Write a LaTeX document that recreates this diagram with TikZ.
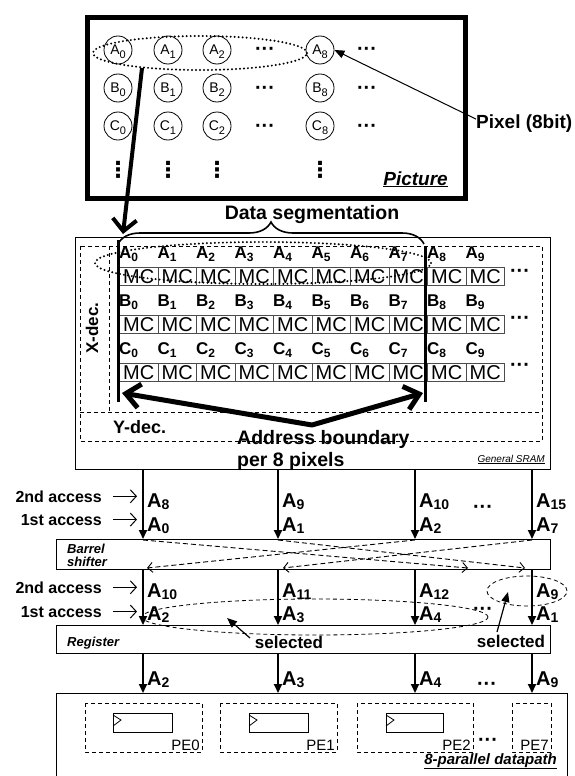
\documentclass[tikz,border=0pt]{standalone}
\usepackage{fontspec}
\setmainfont{Liberation Sans}
\newfontfamily\dejavu{DejaVu Sans}
\usetikzlibrary{arrows.meta,decorations.pathreplacing}
\newcommand\fs[1]{\fontsize{#1}{#1}\selectfont}
\newcommand\lsub[3]{\raisebox{-#2pt}{\fs{#1}#3}}
\begin{document}
\begin{tikzpicture}[x=1pt,y=-1pt,
  pix/.style={circle,draw,line width=0.8pt,minimum size=28pt,inner sep=0pt,text depth=0pt,font=\fs{14}},
  dots/.style={inner sep=0pt,anchor=base,font=\bfseries\fs{20}},
  vdots/.style={inner sep=0pt,font=\dejavu\bfseries\fs{22}},
  lab/.style={anchor=base west,inner sep=0pt,font=\bfseries\fs{17}},
  big/.style={anchor=base west,inner sep=0pt,font=\bfseries\fs{20}},
  acc/.style={anchor=base east,inner sep=0pt,font=\bfseries\fs{16}},
  mc/.style={draw=black!70,line width=1pt,minimum width=38.5pt,minimum height=18pt,inner sep=0pt,anchor=north west,font=\fs{20}},
  box/.style={draw,line width=1pt,anchor=north west,inner sep=0pt},
  dbox/.style={draw,dashed,dash pattern=on 4pt off 3pt,line width=0.8pt},
  colarrow/.style={line width=2pt,-{Triangle[length=9pt,width=8pt]}},
  accarrow/.style={line width=1pt,-{Straight Barb[length=6pt,width=13pt]}},
  dasharrow/.style={line width=0.9pt,dash pattern=on 5pt off 3pt,-{Straight Barb[length=5pt,width=10pt]}},
  dotline/.style={line width=2.2pt,dash pattern=on 0pt off 4pt,line cap=round},
  selarrow/.style={line width=1.2pt,-{Triangle[length=10pt,width=8pt]}},
  tag/.style={inner sep=0pt,font=\bfseries\itshape\fs{13},anchor=base west}
]
\useasboundingbox (0,0) rectangle (575,776);

% ---------------- Picture ----------------
\node[draw,line width=5pt,minimum width=378pt,minimum height=181pt,anchor=north west,inner sep=0pt] (pic) at (85,15) {};
\foreach \L/\y in {A/50,B/88,C/126} {
  \foreach \n/\x in {0/118,1/168,2/217,8/320} {
    \node[pix] (p\L\n) at (\x,\y) {\L\lsub{11}{4}{\n}};
  }
  \node[dots] (pd\L a) at (265,\y+6) {···};
  \node[dots] (pd\L b) at (367,\y+6) {···};
}
\foreach \x [count=\k] in {118,168,217,320} {
  \node[vdots] (vd\k) at (\x,170) {⋮};
}
\node[anchor=base east,inner sep=0pt,font=\bfseries\itshape\fs{19}] (pictxt) at (448,185) {\underline{Picture}};
\draw[dotline] (200,53) ellipse [x radius=107pt, y radius=17pt];
\coordinate (ellA) at (142,68);

\node[anchor=base west,inner sep=0pt,font=\bfseries\fs{19}] (pixel) at (476,128) {Pixel (8bit)};
\draw[line width=1pt,-{Triangle[length=10pt,width=8pt]}] (pixel.west) ++(0,-4) -- (pA8.east);

% ---------------- SRAM ----------------
\node[box,minimum width=475pt,minimum height=232pt] (sram) at (75,237) {};
\node[anchor=base east,inner sep=0pt,font=\itshape\fs{10}] at (545,462) {\underline{General SRAM}};
\draw[dbox] (80,246) rectangle (542,441);
\draw[dbox] (109,246) -- (109,412);
\draw[dbox] (80,412) -- (542,412);
\node[rotate=90,inner sep=0pt,font=\bfseries\fs{17}] (xdec) at (92,328) {X-dec.};
\node[anchor=base west,inner sep=0pt,font=\bfseries\fs{18}] (ydec) at (113,433) {Y-dec.};

\foreach \L/\r in {A/0,B/1,C/2} {
  \foreach \i in {0,...,9} {
    \pgfmathsetmacro\xx{119+38.5*\i}
    \pgfmathsetmacro\yb{258+48*\r}
    \pgfmathsetmacro\yt{267+48*\r}
    \node[mc] (mc\L\i) at (\xx,\yt) {MC};
    \node[lab] (lb\L\i) at (\xx,\yb) {\L\lsub{12}{3}{\i}};
  }
  \pgfmathsetmacro\yd{277+47*\r}
  \node[dots] (sd\L) at (520,\yd) {···};
}
\draw[line width=3pt] (118,240) -- (118,402);
\draw[line width=3pt] (425,246) -- (425,402);
\draw[line width=1.6pt,decorate,decoration={brace,amplitude=22pt}] (118,244) -- (424,244);
\node[anchor=base,inner sep=0pt,font=\bfseries\fs{19.5}] (dseg) at (312,219) {Data segmentation};
\draw[dotline] (263,263) ellipse [x radius=168pt, y radius=21pt];

\draw[line width=4pt,-{Straight Barb[length=12pt,width=24pt]}] (ellA) -- (123,234);

\coordinate (vtx) at (312,425);
\draw[line width=5pt,line join=round,{Straight Barb[length=14pt,width=24pt]}-{Straight Barb[length=14pt,width=24pt]}] (122,393) -- (vtx) -- (423,393);
\node[anchor=base west,inner sep=0pt,font=\bfseries\fs{19.5}] (addr) at (237,444) {Address boundary};
\node[anchor=base west,inner sep=0pt,font=\bfseries\fs{19.5}] (per8) at (237,466) {per 8 pixels};

% ---------------- lower boxes ----------------
\node[box,minimum width=494pt,minimum height=30pt] (barrel) at (56,539) {};
\node[tag] (bar1) at (67,553) {Barrel};
\node[tag] (bar2) at (67,566) {shifter};
\node[box,minimum width=494pt,minimum height=28pt] (reg) at (56,625) {};
\node[tag] (regtxt) at (67,646) {Register};
\node[box,minimum width=511pt,minimum height=95pt] (dp) at (56,693) {};
\node[anchor=base east,inner sep=0pt,font=\bfseries\itshape\fs{15}] at (557,764) {\underline{8-parallel datapath}};

\foreach \k/\x in {0/143,1/278,2/415,3/532} {
  \coordinate (c\k) at (\x,0);
  \draw[colarrow] (sram.south -| c\k) -- (barrel.north -| c\k);
  \draw[colarrow] (barrel.south -| c\k) -- (reg.north -| c\k);
  \draw[colarrow] (reg.south -| c\k) -- (dp.north -| c\k);
}

% group 1
\node[acc] (acc2a) at (102,502) {2nd access};
\node[acc] (acc1a) at (102,525) {1st access};
\draw[accarrow] (acc2a.east) ++(11,0) -- ++(24,0);
\draw[accarrow] (acc1a.east) ++(11,0) -- ++(24,0);
\foreach \x/\a/\b in {147/8/0,282/9/1,419/10/2,536/15/7} {
  \node[big] at (\x,507) {A\lsub{14}{2.5}{\a}};
  \node[big] at (\x,531) {A\lsub{14}{2.5}{\b}};
}
\node[dots] at (483,513) {···};

% barrel crossings
\draw[dasharrow] (143,540) -- (468,568);
\draw[dasharrow] (278,540) -- (525,568);
\draw[dasharrow] (415,540) -- (147,568);
\draw[dasharrow] (532,540) -- (283,568);

% group 2
\node[acc] (acc2b) at (102,593) {2nd access};
\node[acc] (acc1b) at (102,617) {1st access};
\draw[accarrow] (acc2b.east) ++(11,0) -- ++(24,0);
\draw[accarrow] (acc1b.east) ++(11,0) -- ++(24,0);
\foreach \x/\a/\b in {147/10/2,282/11/3,419/12/4,536/9/1} {
  \node[big] at (\x,597) {A\lsub{14}{2.5}{\a}};
  \node[big] at (\x,620) {A\lsub{14}{2.5}{\b}};
}
\node[dots] at (483,615) {···};
\draw[dbox] (527,591) ellipse [x radius=40pt, y radius=15pt];
\draw[dbox] (315,617) ellipse [x radius=173pt, y radius=18pt];
\node[anchor=base,inner sep=0pt,font=\bfseries\fs{17}] (sel1) at (289,648) {selected};
\node[anchor=base,inner sep=0pt,font=\bfseries\fs{17}] (sel2) at (511,647) {selected};
\draw[selarrow] (250,638) -- (227,618);
\draw[selarrow] (497,632) -- (508,592);

% group 3
\foreach \x/\a in {147/2,282/3,419/4,536/9} {
  \node[big] at (\x,685) {A\lsub{14}{2.5}{\a}};
}
\node[dots] at (487,690) {···};

% PEs
\foreach \n/\xa/\xb in {0/85/202,1/220/337,2/357/473,7/512/551} {
  \draw[dbox] (\xa,703) rectangle (\xb,752);
  \node[anchor=base east,inner sep=0pt,font=\fs{15}] at (\xb-2,750) {PE\n};
}
\foreach \xa/\xb in {113/172,249/308,386/443} {
  \draw[line width=1pt] (\xa,713) rectangle (\xb,732);
  \draw[line width=0.8pt] (\xa,715) -- (\xa+8,720) -- (\xa,726);
}
\node[dots] at (488,746) {···};
\end{tikzpicture}
\end{document}
